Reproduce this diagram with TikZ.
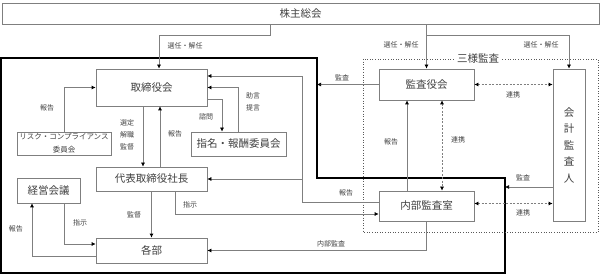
\documentclass[tikz,border=0pt]{standalone}
\usepackage{fontspec}
\setmainfont{Noto Sans CJK JP}
\usepackage{xcolor}
\usepackage{tikz}
\usetikzlibrary{arrows.meta,positioning,calc}
\definecolor{orgline}{HTML}{7F7F7F}
\definecolor{orgtext}{HTML}{404040}
\tikzset{
  flowarrow/.style={-{Latex[length=4pt,width=4pt,color=black]}, draw=orgline, line width=0.7pt},
  linkarrow/.style={{Latex[length=4pt,width=4pt,color=black]}-{Latex[length=4pt,width=4pt,color=black]},
    dash pattern=on 2pt off 1.5pt, draw=orgline, line width=0.7pt},
  plainline/.style={draw=orgline, line width=0.7pt},
  orgbox/.style={draw=orgline, line width=0.7pt, fill=white, align=center, inner sep=0pt,
    text=orgtext, font=\fontsize{10.5}{13}\selectfont},
  smallbox/.style={orgbox, font=\fontsize{7.5}{13}\selectfont},
  smallnote/.style={font=\fontsize{7}{12}\selectfont, text=orgtext, align=center, inner sep=1pt},
  companyframe/.style={draw=black, line width=1.2pt},
  auditframe/.style={draw=black!65, dotted, line width=0.6pt}
}

\begin{document}
\begin{tikzpicture}[x=1pt, y=-1pt]
        \useasboundingbox (0,0) rectangle (602,275);

        \coordinate (fTL) at (1,58);
        \coordinate (fTR) at (317,58);
        \coordinate (fMid) at (317,178);
        \coordinate (fMR) at (505,178);
        \coordinate (fBR) at (505,273);
        \coordinate (fBL) at (1,273);
        \draw[companyframe] (fTL) -- (fTR) -- (fMid) -- (fMR) -- (fBR) -- (fBL) -- cycle;
        \draw[auditframe] (363,59) rectangle (598,232);
        \node[font=\fontsize{10.5}{13}\selectfont, text=orgtext, fill=white, inner sep=2pt] (sanyo) at (478,59) {三様監査};

        \node[orgbox, minimum width=597pt, minimum height=21pt] (gm) at (300.5,13.5) {株主総会};
        \node[orgbox, minimum width=111pt, minimum height=37pt] (board) at (151.5,87.5) {取締役会};
        \node[orgbox, minimum width=95pt, minimum height=31pt] (audit) at (426.5,84.5) {監査役会};
        \node[orgbox, minimum width=32pt, minimum height=152pt, font=\fontsize{10.5}{16.5}\selectfont] (acct) at (569,145) {会\\計\\監\\査\\人};
        \node[smallbox, minimum width=94pt, minimum height=23pt] (risk) at (64,143.5) {リスク・コンプライアンス\\委員会};
        \node[orgbox, minimum width=95pt, minimum height=24pt] (nom) at (238.5,144) {指名・報酬委員会};
        \node[orgbox, minimum width=111pt, minimum height=24pt] (ceo) at (151.5,179) {代表取締役社長};
        \node[orgbox, minimum width=63pt, minimum height=25pt] (mgmt) at (48.5,190.5) {経営会議};
        \node[orgbox, minimum width=111pt, minimum height=25pt] (depts) at (151.5,250.5) {各部};
        \node[orgbox, minimum width=95pt, minimum height=30pt] (iaudit) at (426.5,206) {内部監査室};

        \coordinate (gmsplit) at (159,35);
        \coordinate (repx) at (302,0);
        \path ([yshift=-42pt]acct.west) coordinate (acctaud);
        \path ([yshift=2.5pt]iaudit.east) coordinate (ialink);
        \path ([yshift=4pt]iaudit.west) coordinate (iarep);
        \path ([yshift=-8pt]iaudit.west) coordinate (iainst);
        \path ([yshift=11.5pt]board.east) coordinate (boardrep);
        \path ([yshift=-11.5pt]board.east) coordinate (boardask);
        \path ([yshift=6.5pt]depts.west) coordinate (deptin);
        \path ([yshift=-5.5pt]depts.west) coordinate (deptout);

        \draw[flowarrow] ([xshift=-30.5pt]gm.south) |- (gmsplit) -- (gmsplit |- board.north);
        \draw[flowarrow] (gm.south -| audit) -- (audit.north);
        \draw[flowarrow] (audit |- gmsplit) -| (acct.north);
        \draw[flowarrow] (audit.west) -- (audit.west -| fTR);
        \draw[linkarrow] (audit.east) -- (audit.east -| acct.west);
        \draw[flowarrow] ([xshift=-19.5pt]iaudit.north) -- ([xshift=-19.5pt]audit.south);
        \draw[linkarrow] ([xshift=15.5pt]audit.south) -- ([xshift=15.5pt]iaudit.north);
        \draw[flowarrow] (acctaud) -- (acctaud -| fBR);
        \draw[linkarrow] (ialink) -- (ialink -| acct.west);
        \draw[flowarrow] (iaudit.south) |- (depts.east);
        \draw[flowarrow] (iarep) -| (repx |- boardrep) -- (boardrep);
        \draw[flowarrow] (repx |- ceo.east) -- (ceo.east);
        \draw[flowarrow] ([xshift=23.5pt]ceo.south) |- (iainst);
        \draw[flowarrow] ([xshift=-8.5pt]board.south) -- ([xshift=-8.5pt]ceo.north);
        \draw[flowarrow] ([xshift=8.5pt]ceo.north) -- ([xshift=8.5pt]board.south);
        \draw[flowarrow] (boardask) -| ([xshift=-16.5pt]nom.north);
        \draw[flowarrow] (nom.north) |- (board.east);
        \draw[flowarrow] (risk.north) |- (board.west);
        \draw[flowarrow] (ceo.south) -- (depts.north);
        \draw[flowarrow] ([xshift=15.5pt]mgmt.south) |- (deptin);
        \draw[flowarrow] (deptout) -| ([xshift=-16.5pt]mgmt.south);

        \node[smallnote] (lgmboard) at (185,46) {選任・解任};
        \node[smallnote] (lgmaudit) at (401,45) {選任・解任};
        \node[smallnote] (lgmacct) at (541,45) {選任・解任};
        \node[smallnote] (lauditco) at (342,78) {監査};
        \node[smallnote] (llinka) at (513,95) {連携};
        \node[smallnote] (liarep) at (391,142) {報告};
        \node[smallnote] (llinkb) at (458,140) {連携};
        \node[smallnote] (lacctco) at (523,178) {監査};
        \node[smallnote] (llinkc) at (523,213) {連携};
        \node[smallnote] (liadept) at (331,244) {内部監査};
        \node[smallnote] (liaboard) at (346,193) {報告};
        \node[smallnote] (lceoia) at (190,205) {指示};
        \node[smallnote] (lboardceo) at (127,135) {選定\\解職\\監督};
        \node[smallnote] (lceoboard) at (175,134) {報告};
        \node[smallnote] (lask) at (206,117) {諮問};
        \node[smallnote] (ladvice) at (253,102) {助言\\提言};
        \node[smallnote] (lrisk) at (47,108) {報告};
        \node[smallnote] (lceodept) at (134,215) {監督};
        \node[smallnote] (lmgmtdept) at (80,223) {指示};
        \node[smallnote] (ldeptmgmt) at (16,229) {報告};
    \end{tikzpicture}
\end{document}
